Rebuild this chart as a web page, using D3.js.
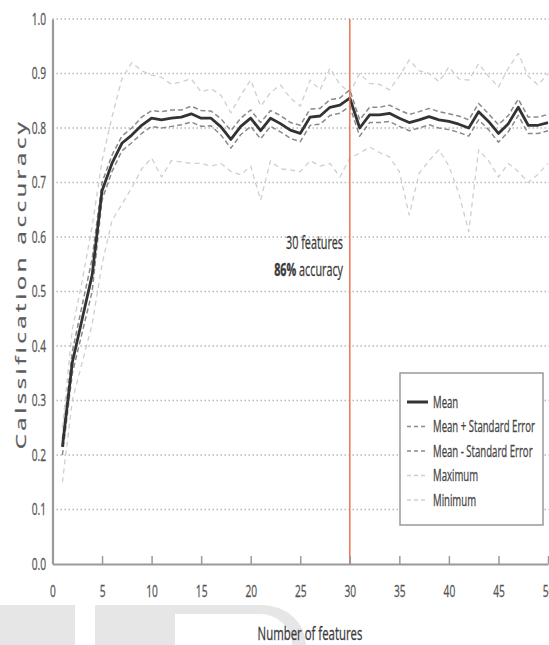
<!DOCTYPE html>
<html>
<head>
<meta charset="utf-8">
<script src="https://cdn.jsdelivr.net/npm/d3@7"></script>
<style>
  body { margin: 0; background: #fff; }
  svg { display: block; }
</style>
</head>
<body>
<svg id="chart" width="549" height="645"></svg>
<script>
const features = [1, 2, 3, 4, 5, 6, 7, 8, 9, 10, 11, 12, 13, 14, 15, 16, 17, 18, 19, 20,
    21, 22, 23, 24, 25, 26, 27, 28, 29, 30, 31, 32, 33, 34, 35, 36, 37, 38, 39, 40,
    41, 42, 43, 44, 45, 46, 47, 48, 49, 50];

const meanAcc = [0.215, 0.37, 0.45, 0.53, 0.685, 0.735, 0.772, 0.787, 0.805, 0.818,
    0.815, 0.818, 0.82, 0.826, 0.818, 0.818, 0.802, 0.779, 0.803, 0.818,
    0.795, 0.818, 0.808, 0.796, 0.79, 0.82, 0.822, 0.838, 0.842, 0.855,
    0.80, 0.824, 0.824, 0.827, 0.818, 0.81, 0.815, 0.821, 0.815, 0.812,
    0.807, 0.80, 0.83, 0.812, 0.79, 0.808, 0.838, 0.805, 0.805, 0.81];

const meanPlusSE = [0.23, 0.39, 0.475, 0.56, 0.70, 0.75, 0.785, 0.80, 0.82, 0.832,
    0.83, 0.833, 0.833, 0.84, 0.832, 0.831, 0.817, 0.795, 0.818, 0.833,
    0.81, 0.832, 0.823, 0.81, 0.805, 0.835, 0.836, 0.852, 0.855, 0.87,
    0.815, 0.838, 0.838, 0.842, 0.833, 0.825, 0.83, 0.836, 0.83, 0.826,
    0.822, 0.815, 0.845, 0.826, 0.806, 0.823, 0.853, 0.82, 0.82, 0.825];

const meanMinusSE = [0.20, 0.35, 0.425, 0.50, 0.668, 0.72, 0.758, 0.773, 0.79, 0.803,
    0.80, 0.803, 0.806, 0.811, 0.803, 0.804, 0.787, 0.763, 0.788, 0.803,
    0.78, 0.803, 0.793, 0.781, 0.775, 0.805, 0.807, 0.823, 0.827, 0.84,
    0.785, 0.81, 0.81, 0.812, 0.803, 0.795, 0.80, 0.806, 0.80, 0.797,
    0.792, 0.785, 0.815, 0.797, 0.774, 0.793, 0.823, 0.79, 0.79, 0.795];

const maxAcc = [0.25, 0.43, 0.52, 0.62, 0.74, 0.82, 0.89, 0.92, 0.905, 0.897,
    0.893, 0.88, 0.885, 0.89, 0.866, 0.872, 0.86, 0.828, 0.86, 0.888,
    0.84, 0.865, 0.879, 0.855, 0.84, 0.888, 0.87, 0.91, 0.88, 0.865,
    0.90, 0.882, 0.88, 0.87, 0.895, 0.925, 0.905, 0.90, 0.885, 0.912,
    0.89, 0.888, 0.918, 0.895, 0.875, 0.91, 0.937, 0.895, 0.879, 0.90];

const minAcc = [0.15, 0.30, 0.37, 0.44, 0.55, 0.63, 0.66, 0.69, 0.725, 0.745,
    0.71, 0.74, 0.738, 0.735, 0.735, 0.73, 0.735, 0.72, 0.714, 0.73,
    0.668, 0.74, 0.725, 0.723, 0.72, 0.74, 0.73, 0.735, 0.71, 0.745,
    0.754, 0.765, 0.755, 0.747, 0.72, 0.64, 0.717, 0.74, 0.76, 0.73,
    0.68, 0.61, 0.76, 0.74, 0.71, 0.735, 0.72, 0.70, 0.715, 0.735];

const xTicks = [0, 5, 10, 15, 20, 25, 30, 35, 40, 45, 50];
const yTicks = [0, 0.1, 0.2, 0.3, 0.4, 0.5, 0.6, 0.7, 0.8, 0.9, 1.0];
const bestFeatures = 30;

const SERIES = [
    { label: 'Mean', values: meanAcc, color: '#333', width: 2.8, dash: null },
    { label: 'Mean + Standard Error', values: meanPlusSE, color: '#8a8a8a', width: 1.5, dash: '5,3' },
    { label: 'Mean - Standard Error', values: meanMinusSE, color: '#8a8a8a', width: 1.5, dash: '5,3' },
    { label: 'Maximum', values: maxAcc, color: '#cfcfcf', width: 1.3, dash: '5,4' },
    { label: 'Minimum', values: minAcc, color: '#cfcfcf', width: 1.3, dash: '5,4' }
];

const SQ = 0.6;   // glyphs in the source are squeezed horizontally
const FONT = "'Open Sans', 'DejaVu Sans', sans-serif";

const svg = d3.select('#chart').style('font-family', FONT);

const x = d3.scaleLinear().domain([0, 50]).range([52.5, 548]);
const y = d3.scaleLinear().domain([0, 1]).range([564, 19]);

// watermark shapes at the bottom
const wm = svg.append('g').attr('fill', '#e6e6e6');
wm.append('rect').attr('x', 0).attr('y', 605).attr('width', 75).attr('height', 40);
wm.append('rect').attr('x', 95).attr('y', 605).attr('width', 80).attr('height', 40);
wm.append('path')
    .attr('d', 'M175,605 H262 A44,40 0 0 1 306,645 H292 A32,30 0 0 0 260,614 H175 Z');

// dotted grid
svg.append('g')
    .selectAll('line')
    .data(yTicks.filter(function(d) { return d > 0; }))
    .enter()
    .append('line')
    .attr('x1', x(0))
    .attr('x2', 549)
    .attr('y1', function(d) { return y(d); })
    .attr('y2', function(d) { return y(d); })
    .attr('stroke', '#b8b8b8')
    .attr('stroke-width', 1.6)
    .attr('stroke-dasharray', '1.5,2.5');

// series
const line = d3.line()
    .x(function(d) { return x(d.f); })
    .y(function(d) { return y(d.v); });

SERIES.slice().reverse().forEach(function(s) {
    const data = features.map(function(f, i) { return { f: f, v: s.values[i] }; });
    svg.append('path')
        .datum(data)
        .attr('fill', 'none')
        .attr('stroke', s.color)
        .attr('stroke-width', s.width)
        .attr('stroke-linejoin', 'round')
        .attr('stroke-dasharray', s.dash)
        .attr('d', line);
});

// marker at the best number of features
svg.append('line')
    .attr('x1', x(bestFeatures))
    .attr('x2', x(bestFeatures))
    .attr('y1', y(1))
    .attr('y2', y(0))
    .attr('stroke', '#ef7552')
    .attr('stroke-width', 1.5);

// axes
const xAxis = svg.append('g')
    .attr('transform', 'translate(0,' + y(0) + ')')
    .call(d3.axisBottom(x).tickValues(xTicks).tickSizeInner(-8).tickSizeOuter(0).tickPadding(21));

const yAxis = svg.append('g')
    .attr('transform', 'translate(' + x(0) + ',0)')
    .call(d3.axisLeft(y).tickValues(yTicks).tickFormat(d3.format('.1f')).tickSize(0).tickPadding(0));

[xAxis, yAxis].forEach(function(g) {
    g.select('.domain').attr('stroke', '#9a9a9a').attr('stroke-width', 2.2);
    g.selectAll('.tick line').attr('stroke', '#9a9a9a').attr('stroke-width', 1.5);
    g.selectAll('text')
        .attr('fill', '#555')
        .attr('stroke', '#555')
        .attr('stroke-width', 0.3)
        .style('font-size', '17px')
        .style('font-family', FONT)
        .attr('transform', 'scale(' + SQ + ',1)');
});
yAxis.selectAll('text').attr('x', -6.5 / SQ);

// texts
function squeezed(tx, ty, size, anchor) {
    return svg.append('text')
        .attr('transform', 'translate(' + tx + ',' + ty + ') scale(' + SQ + ',1)')
        .attr('text-anchor', anchor)
        .attr('stroke-width', 0.3)
        .style('font-size', size + 'px');
}

squeezed(310, 640, 19, 'middle').attr('fill', '#3a3a3a').attr('stroke', '#3a3a3a').text('Number of features');

svg.append('text')
    .attr('transform', 'translate(26,284) scale(' + SQ + ',1) rotate(-90)')
    .attr('text-anchor', 'middle')
    .attr('fill', '#5a5a5a')
    .attr('stroke', '#5a5a5a')
    .attr('stroke-width', 0.4)
    .style('font-size', '24px')
    .style('letter-spacing', '3.5px')
    .text('Calssification accuracy');

squeezed(343, 249, 18, 'end').attr('fill', '#3a3a3a').attr('stroke', '#3a3a3a').text(bestFeatures + ' features');
const acc = squeezed(343, 276, 18, 'end').attr('fill', '#3a3a3a').attr('stroke', '#3a3a3a');
acc.append('tspan').style('font-weight', 'bold').text(Math.round(meanAcc[bestFeatures - 1] * 100) + '%');
acc.append('tspan').text(' accuracy');

// legend
const legend = svg.append('g');
legend.append('rect')
    .attr('x', 400).attr('y', 373).attr('width', 143).attr('height', 152)
    .attr('fill', '#fff')
    .attr('stroke', '#999')
    .attr('stroke-width', 1.5);

SERIES.forEach(function(s, i) {
    const ly = 402 + i * 24.5;
    legend.append('line')
        .attr('x1', 407).attr('x2', 428)
        .attr('y1', ly).attr('y2', ly)
        .attr('stroke', s.color)
        .attr('stroke-width', i === 0 ? 3 : 1.6)
        .attr('stroke-dasharray', s.dash ? '4,3' : null);
    legend.append('text')
        .attr('transform', 'translate(433,' + ly + ') scale(' + SQ + ',1)')
        .attr('dy', '0.35em')
        .attr('fill', '#444')
        .attr('stroke', '#444')
        .attr('stroke-width', 0.3)
        .style('font-size', '16px')
        .text(s.label);
});
</script>
</body>
</html>
